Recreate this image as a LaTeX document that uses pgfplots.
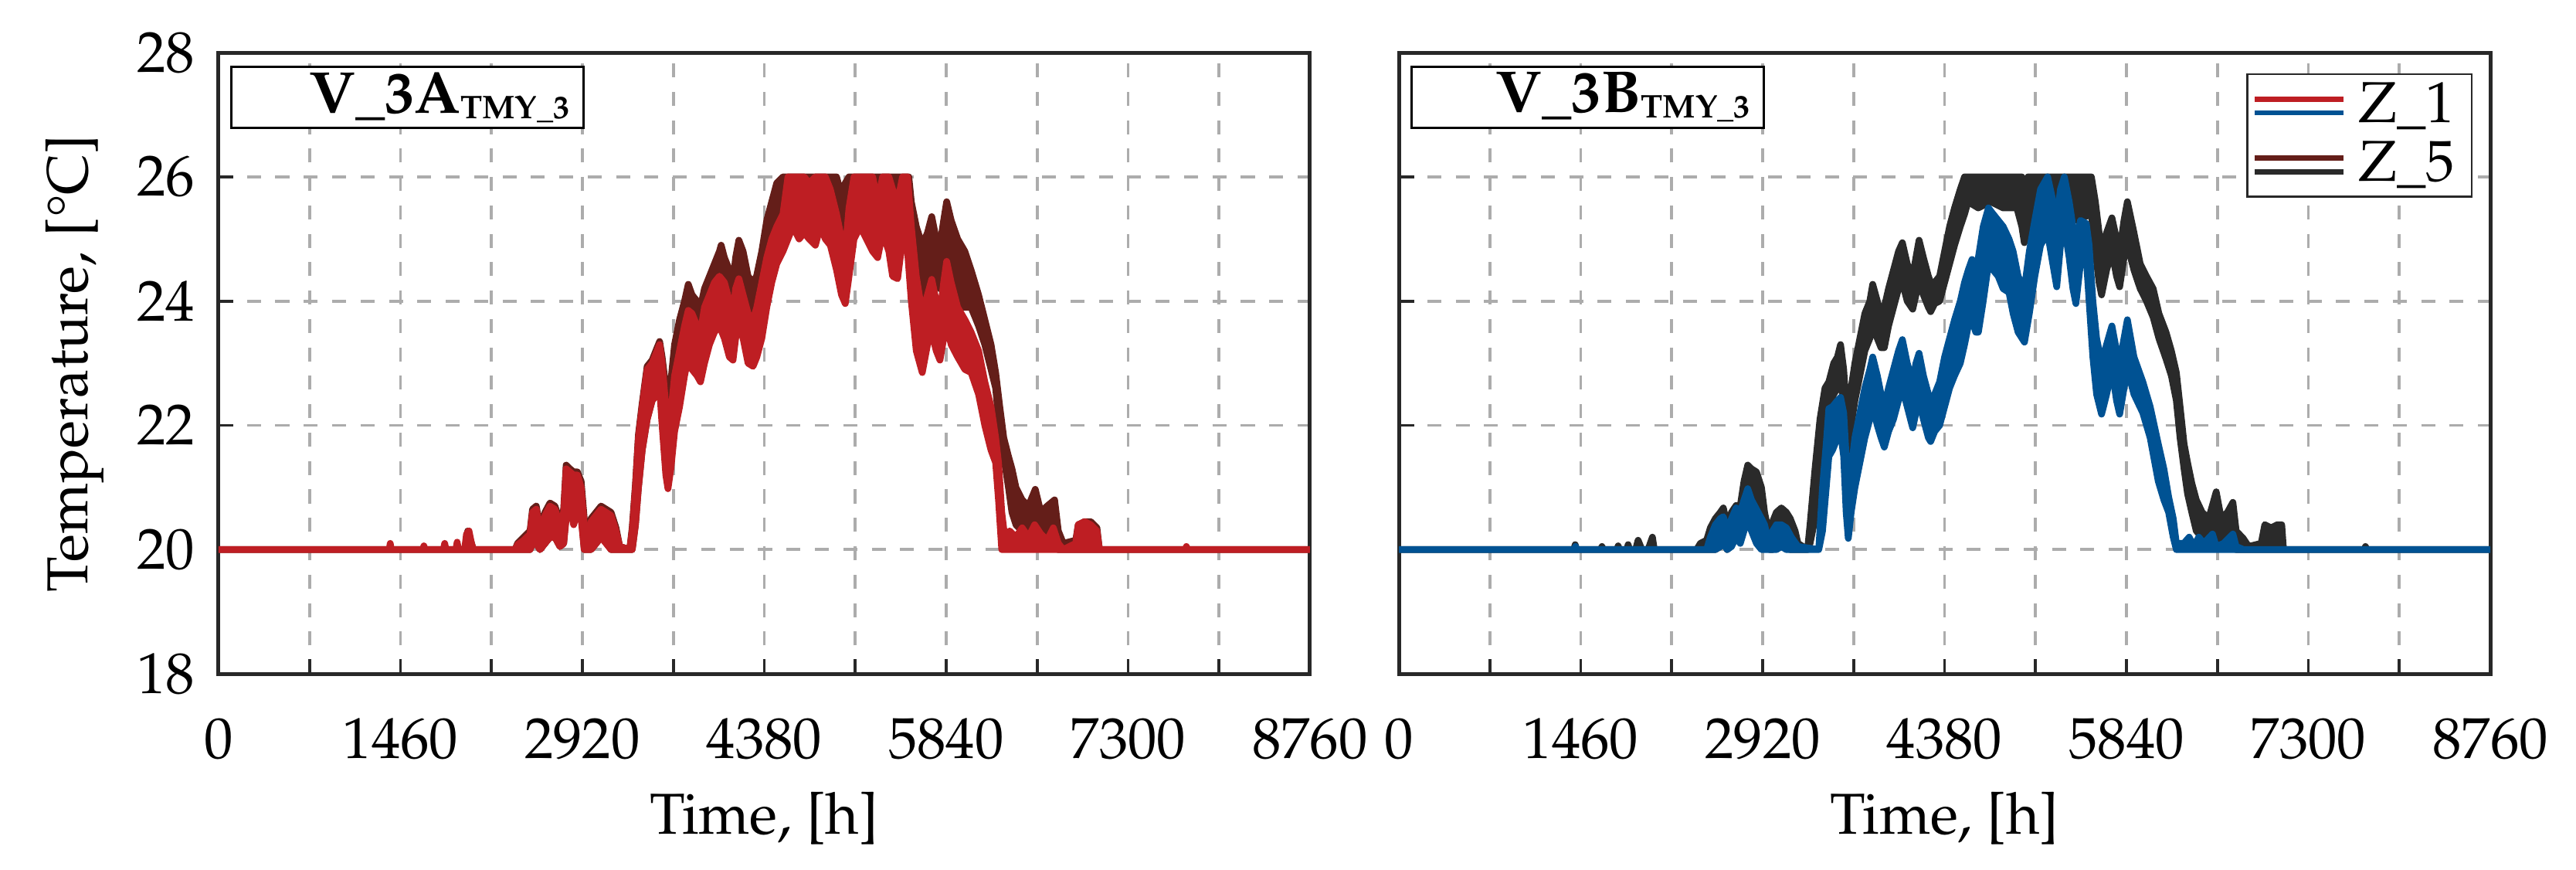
\documentclass[border=0pt]{standalone}
\usepackage[T1]{fontenc}
\usepackage{mathpazo}
\usepackage{pgfplots}
\usepackage{pgfplotstable}
\pgfplotsset{compat=1.18}
\usepgfplotslibrary{fillbetween}

\definecolor{cRed}{RGB}{190,30,35}
\definecolor{cBrown}{RGB}{100,30,25}
\definecolor{cBlue}{RGB}{0,82,147}
\definecolor{cDark}{RGB}{42,42,42}
\definecolor{gridgray}{RGB}{172,172,172}
\definecolor{axgray}{RGB}{40,40,40}

% left panel, Z_1 (t, lower and upper edge of the daily band)
\pgfplotstableread{
t lo hi
0 20 20
1370 20 20
1378 20 20.1
1386 20 20
1640 20 20
1648 20 20.06
1656 20 20
1805 20 20
1815 20 20.1
1825 20 20
1905 20 20
1915 20 20.12
1925 20 20
1975 20 20
1990 20 20.25
2010 20 20.3
2030 20 20.1
2045 20 20
2380 20 20
2400 20 20.08
2450 20 20.15
2500 20 20.25
2520 20.1 20.6
2550 20.1 20.65
2580 20.0 20.3
2620 20.1 20.55
2660 20.2 20.7
2700 20.2 20.65
2740 20.05 20.4
2770 20.1 20.6
2790 20.5 21.3
2820 20.7 21.25
2850 20.4 21.2
2880 20.6 21.2
2910 20.5 21.0
2935 20 20.4
2960 20 20.1
2990 20 20.45
3030 20.1 20.55
3070 20.2 20.65
3110 20.1 20.6
3150 20 20.55
3190 20 20.3
3220 20 20.05
3300 20 20
3320 20 20.3
3346 20.4 21.0
3370 21.0 21.8
3400 21.6 22.3
3440 22.1 22.9
3480 22.4 23.0
3520 22.5 23.2
3540 22.6 23.3
3560 22.0 23.0
3590 21.2 22.3
3607 20.98 21.8
3630 21.3 22.2
3660 21.9 22.8
3700 22.3 23.2
3740 22.8 23.6
3770 23.1 23.85
3800 22.9 23.8
3840 22.8 23.6
3868 22.7 23.5
3900 23.0 23.9
3940 23.3 24.1
3980 23.5 24.3
4020 23.6 24.4
4060 23.4 24.3
4100 23.1 24.0
4129 23.05 23.8
4150 23.4 24.2
4176 23.6 24.36
4210 23.4 24.1
4250 23.0 23.8
4290 22.95 23.7
4320 23.1 23.9
4360 23.4 24.3
4400 23.9 24.7
4440 24.3 25.0
4480 24.6 25.2
4530 24.8 25.4
4570 25.0 26
4610 25.2 26
4660 25.0 26
4700 25.1 26
4740 25.0 25.9
4790 24.9 26
4830 25.2 26
4870 25.0 26
4910 24.9 25.8
4960 24.5 25.4
5000 24.1 25.0
5030 23.96 24.8
5060 24.4 25.5
5100 25.0 26
5150 25.2 26
5200 25.0 26
5250 24.8 26
5290 24.7 25.6
5330 25.1 26
5380 24.8 26
5410 24.4 25.8
5450 24.36 25.6
5490 25.0 26
5530 24.8 26
5560 24.0 25.2
5600 23.2 24.4
5648 22.85 23.8
5690 23.3 24.1
5724 23.5 24.35
5760 23.2 24.0
5790 23.05 23.8
5820 23.4 24.3
5844 23.6 24.64
5880 23.3 24.3
5932 23.1 23.9
5990 22.9 23.7
6040 22.85 23.5
6100 22.5 23.2
6150 22.0 22.7
6200 21.6 22.3
6237 21.4 21.8
6260 20.8 21.4
6286 20 20.6
6310 20 20.2
6350 20 20.3
6400 20 20.2
6450 20 20.35
6500 20 20.2
6550 20 20.4
6600 20 20.25
6650 20 20.15
6700 20 20.35
6740 20 20.1
6780 20 20.0
6880 20 20.1
6900 20 20.4
6950 20 20.45
7000 20 20.4
7050 20 20.3
7070 20 20
7760 20 20
7768 20 20.05
7776 20 20
8760 20 20
}\LZone

% left panel, Z_5
\pgfplotstableread{
t lo hi
0 20 20
1990 20 20
2000 20 20.3
2030 20 20.1
2045 20 20
2380 20 20
2400 20 20.1
2450 20 20.2
2500 20 20.3
2520 20.1 20.65
2550 20.1 20.7
2580 20.0 20.35
2620 20.1 20.6
2660 20.2 20.75
2700 20.2 20.7
2740 20.05 20.45
2770 20.1 20.65
2790 20.6 21.36
2820 20.8 21.3
2850 20.6 21.25
2880 20.7 21.25
2910 20.6 21.1
2935 20 20.5
2960 20 20.15
2990 20 20.5
3030 20.1 20.6
3070 20.2 20.7
3110 20.2 20.65
3150 20 20.6
3190 20 20.35
3220 20 20.05
3300 20 20
3320 20 20.35
3346 20.4 21.05
3370 21.0 21.85
3400 21.6 22.35
3440 22.1 22.95
3480 22.4 23.05
3520 22.5 23.25
3540 22.7 23.35
3560 22.3 23.1
3590 21.8 22.6
3607 21.9 22.4
3630 22.0 22.7
3660 22.4 23.3
3700 22.9 23.7
3740 23.3 24.0
3770 23.6 24.27
3800 23.5 24.1
3840 23.3 24.0
3868 23.2 23.9
3900 23.5 24.2
3940 23.8 24.4
3980 24.0 24.6
4020 24.1 24.8
4034 24.2 24.9
4060 24.0 24.7
4100 23.7 24.5
4129 23.6 24.3
4150 23.9 24.7
4176 24.2 24.98
4210 24.0 24.8
4250 23.7 24.4
4290 23.6 24.3
4318 23.8 24.4
4360 24.1 24.8
4400 24.6 25.3
4440 25.0 25.6
4480 25.2 25.9
4530 25.4 26
4600 25.5 26
4700 25.6 26
4800 25.5 26
4900 25.5 26
4934 25.3 26
4960 25.0 26
5000 24.85 25.7
5030 25.0 25.9
5060 25.3 26
5200 25.5 26
5300 25.4 26
5400 25.5 26
5540 25.2 26
5560 24.5 25.6
5600 24.2 25.2
5648 24.1 24.9
5690 24.3 25.1
5724 24.6 25.36
5760 24.3 25.0
5790 24.2 24.9
5820 24.6 25.3
5844 24.8 25.6
5880 24.5 25.3
5932 23.9 25.0
5990 23.9 24.8
6040 23.9 24.5
6100 23.6 24.1
6150 23.3 23.7
6200 22.9 23.3
6237 22.6 22.85
6270 21.9 22.3
6302 21.5 21.8
6340 21.0 21.5
6368 20.6 21.3
6400 20.4 21.0
6450 20.3 20.8
6500 20.3 20.7
6555 20.2 20.97
6600 20.2 20.6
6650 20.1 20.7
6710 20.1 20.8
6740 20 20.3
6780 20 20.1
6880 20 20.15
6900 20 20.4
6950 20 20.45
7000 20 20.45
7050 20 20.35
7070 20 20
8760 20 20
}\LZfive

% right panel, Z_1
\pgfplotstableread{
t lo hi
0 20 20
1410 20 20
1418 20 20.05
1426 20 20
2470 20 20
2500 20 20.2
2540 20 20.4
2580 20.05 20.5
2604 20.1 20.53
2635 20 20.3
2670 20.05 20.5
2707 20.2 20.67
2740 20.1 20.6
2770 20.3 20.8
2800 20.5 20.98
2830 20.3 20.8
2870 20.1 20.65
2910 20 20.5
2935 20 20.4
2976 20 20.05
3000 20 20.3
3030 20 20.4
3070 20.05 20.4
3110 20 20.35
3150 20 20.2
3203 20 20.05
3370 20 20
3400 20.3 21.0
3430 21.0 21.7
3451 21.5 22.27
3480 21.6 22.3
3520 21.8 22.4
3545 21.9 22.45
3570 21.5 22.2
3590 20.6 21.5
3607 20.18 21.0
3630 20.6 21.3
3660 21.0 21.8
3700 21.4 22.2
3740 21.8 22.6
3780 22.1 22.9
3803 22.3 23.1
3840 22.0 22.8
3870 21.8 22.5
3896 21.65 22.3
3930 21.9 22.6
3970 22.1 22.9
4010 22.4 23.2
4041 22.6 23.38
4080 22.3 23.0
4124 21.96 22.7
4150 22.2 23.0
4175 22.4 23.16
4210 22.1 22.8
4250 21.8 22.5
4268 21.74 22.4
4300 21.9 22.5
4340 22.0 22.7
4380 22.3 23.1
4420 22.6 23.4
4460 22.8 23.7
4506 23.0 24.0
4540 23.3 24.3
4570 23.6 24.5
4600 23.7 24.67
4630 23.5 24.5
4651 23.5 24.7
4690 24.0 25.2
4732 24.6 25.5
4770 24.5 25.4
4810 24.4 25.3
4850 24.2 25.2
4897 24.14 25.0
4930 23.8 24.8
4970 23.5 24.4
5021 23.34 24.2
5060 23.8 24.8
5104 24.4 25.3
5150 24.9 25.8
5207 25.1 26
5240 24.7 25.7
5280 24.23 25.3
5310 24.9 25.8
5341 25.2 26
5380 24.7 25.6
5410 24.2 25.2
5434 23.96 24.9
5470 24.6 25.3
5517 24.7 25.25
5540 24.0 24.9
5570 23.1 24.0
5600 22.5 23.4
5640 22.18 23.0
5680 22.5 23.3
5723 22.9 23.6
5760 22.4 23.2
5785 22.18 23.0
5820 22.6 23.4
5847 22.9 23.7
5900 22.5 23.1
5971 22.2 22.7
6030 21.8 22.3
6095 21.1 21.7
6140 20.8 21.3
6178 20.6 20.85
6215 20.2 20.5
6240 20 20.1
6300 20 20.1
6343 20 20.2
6380 20 20.05
6420 20 20.2
6460 20 20.1
6530 20 20.25
6560 20 20.05
6620 20 20.1
6694 20 20.25
6720 20 20.05
6780 20 20
8760 20 20
}\RZone

% right panel, Z_5
\pgfplotstableread{
t lo hi
0 20 20
1405 20 20
1415 20 20.08
1425 20 20
1620 20 20
1630 20 20.05
1640 20 20
1750 20 20
1760 20 20.06
1770 20 20
1830 20 20
1840 20 20.08
1850 20 20
1900 20 20
1920 20 20.15
1950 20 20
2000 20 20
2035 20 20.2
2050 20 20
2390 20 20
2420 20 20.1
2470 20 20.15
2500 20 20.35
2540 20 20.5
2580 20.05 20.6
2604 20.2 20.67
2635 20 20.4
2670 20.1 20.6
2707 20.3 20.71
2740 20.2 20.7
2770 20.6 21.1
2800 20.8 21.36
2830 20.9 21.3
2870 20.8 21.25
2910 20.5 21.0
2935 20.3 20.6
2976 20 20.2
3000 20 20.45
3030 20.05 20.6
3070 20.2 20.67
3110 20.1 20.6
3141 20.0 20.5
3180 20 20.3
3203 20 20.1
3280 20 20
3300 20.1 20.4
3340 20.5 21.3
3380 21.3 22.1
3420 21.9 22.6
3451 22.3 22.7
3490 22.5 23.0
3520 22.6 23.1
3545 22.8 23.3
3570 22.3 22.9
3590 21.8 22.3
3607 21.6 22.1
3630 22.0 22.6
3660 22.4 23.0
3700 22.8 23.4
3740 23.2 23.8
3780 23.4 24.0
3803 23.6 24.27
3840 23.4 24.0
3870 23.25 23.8
3896 23.25 23.9
3930 23.6 24.2
3970 23.9 24.5
4010 24.2 24.8
4041 24.3 24.94
4080 24.0 24.6
4124 23.87 24.4
4150 24.1 24.7
4175 24.3 24.98
4210 24.1 24.7
4250 23.9 24.4
4268 23.83 24.3
4300 23.96 24.3
4340 24.0 24.4
4380 24.3 24.8
4420 24.6 25.2
4460 24.9 25.5
4506 25.2 25.8
4540 25.4 26
4568 25.6 26
4650 25.5 26
4750 25.6 26
4850 25.5 26
4960 25.5 26
5000 25.2 26
5020 24.94 25.8
5050 25.2 26
5083 25.5 26
5300 25.4 26
5434 25.3 26
5558 25.4 26
5590 24.8 25.6
5620 24.3 25.1
5640 24.1 24.8
5680 24.5 25.1
5723 24.8 25.34
5760 24.4 25.0
5785 24.23 24.8
5820 24.7 25.3
5847 24.9 25.6
5900 24.5 25.1
5950 24.2 24.6
6000 24.0 24.4
6054 23.74 24.2
6100 23.4 23.8
6157 23.07 23.5
6200 22.8 23.2
6240 22.4 22.85
6270 21.8 22.3
6302 21.3 21.7
6330 20.9 21.4
6364 20.6 21.07
6400 20.3 20.8
6447 20.2 20.6
6500 20.2 20.5
6560 20.2 20.93
6600 20.1 20.5
6650 20.1 20.6
6694 20.1 20.76
6720 20 20.3
6777 20 20.18
6820 20 20.05
6921 20 20.1
6950 20 20.4
7000 20 20.35
7050 20 20.4
7086 20 20.4
7100 20 20
7750 20 20
7758 20 20.05
7766 20 20
8760 20 20
}\RZfive

\pgfplotsset{
  panel/.style={
    width=7.97cm, height=4.535cm, scale only axis,
    font=\fontsize{12}{14}\selectfont,
    xmin=0, xmax=8760, ymin=18, ymax=28,
    xtick={0,730,...,8760},
    xticklabels={0,,1460,,2920,,4380,,5840,,7300,,8760},
    ytick={18,20,...,28},
    tick pos=left, tick align=inside,
    major tick length=0.11cm,
    tick style={color=axgray, line width=0.6pt},
    axis line style={color=axgray, line width=0.8pt},
    grid=major,
    major grid style={color=gridgray, line width=0.6pt, dash pattern=on 2.9pt off 3pt},
    xticklabel style={yshift=-0.2cm},
    yticklabel style={xshift=-0.05cm},
    xlabel={Time, [h]},
  },
  band/.style={fill=#1, draw=#1, line width=1.4pt, line join=round},
}

\newcommand{\panelbox}[1]{%
  \node[draw=black, line width=0.4pt, fill=white, anchor=north west,
        text width=2.372cm, align=right, inner xsep=0.1cm, inner ysep=0pt,
        minimum height=0.446cm, xshift=0.085cm, yshift=-0.096cm]
    at (rel axis cs:0,1)
    {\fontsize{12.3}{14}\selectfont\bfseries #1\raisebox{-1.1pt}{\fontsize{6.8}{8}\selectfont TMY\_3}};}

\begin{document}
\begin{tikzpicture}

\begin{axis}[panel, at={(0cm,0cm)}, anchor=south west,
  ylabel={Temperature, [\textdegree C]}]
\addplot[draw=none, name path=L5h, forget plot] table[x=t, y=hi] {\LZfive};
\addplot[draw=none, name path=L5l, forget plot] table[x=t, y=lo] {\LZfive};
\addplot[band=cBrown, forget plot] fill between[of=L5h and L5l];
\addplot[draw=none, name path=L1h, forget plot] table[x=t, y=hi] {\LZone};
\addplot[draw=none, name path=L1l, forget plot] table[x=t, y=lo] {\LZone};
\addplot[band=cRed, forget plot] fill between[of=L1h and L1l];
\panelbox{V\_3A}
\end{axis}

\begin{axis}[panel, at={(8.619cm,0cm)}, anchor=south west,
  yticklabels={},
  legend style={at={(rel axis cs:1,1)}, anchor=north east,
    xshift=-0.13cm, yshift=-0.15cm, draw=axgray, line width=0.4pt,
    inner xsep=1pt, inner ysep=0.5pt, row sep=0pt,
    nodes={inner ysep=1.2pt, inner xsep=2.5pt},
    font=\fontsize{12}{14}\selectfont},
  legend cell align=left]
\addplot[draw=none, name path=R5h, forget plot] table[x=t, y=hi] {\RZfive};
\addplot[draw=none, name path=R5l, forget plot] table[x=t, y=lo] {\RZfive};
\addplot[band=cDark, forget plot] fill between[of=R5h and R5l];
\addplot[draw=none, name path=R1h, forget plot] table[x=t, y=hi] {\RZone};
\addplot[draw=none, name path=R1l, forget plot] table[x=t, y=lo] {\RZone};
\addplot[band=cBlue, forget plot] fill between[of=R1h and R1l];
\addlegendimage{legend image code/.code={
  \draw[cRed, line width=1.1pt] (0cm,0.05cm) -- (0.65cm,0.05cm);
  \draw[cBlue, line width=1.1pt] (0cm,-0.05cm) -- (0.65cm,-0.05cm);}}
\addlegendentry{Z\_1}
\addlegendimage{legend image code/.code={
  \draw[cBrown, line width=1.1pt] (0cm,0.05cm) -- (0.65cm,0.05cm);
  \draw[cDark, line width=1.1pt] (0cm,-0.05cm) -- (0.65cm,-0.05cm);}}
\addlegendentry{Z\_5}
\panelbox{V\_3B}
\end{axis}

\pgfresetboundingbox
\path (-1.596cm,-1.427cm) rectangle (17.215cm,4.919cm);
\end{tikzpicture}
\end{document}
